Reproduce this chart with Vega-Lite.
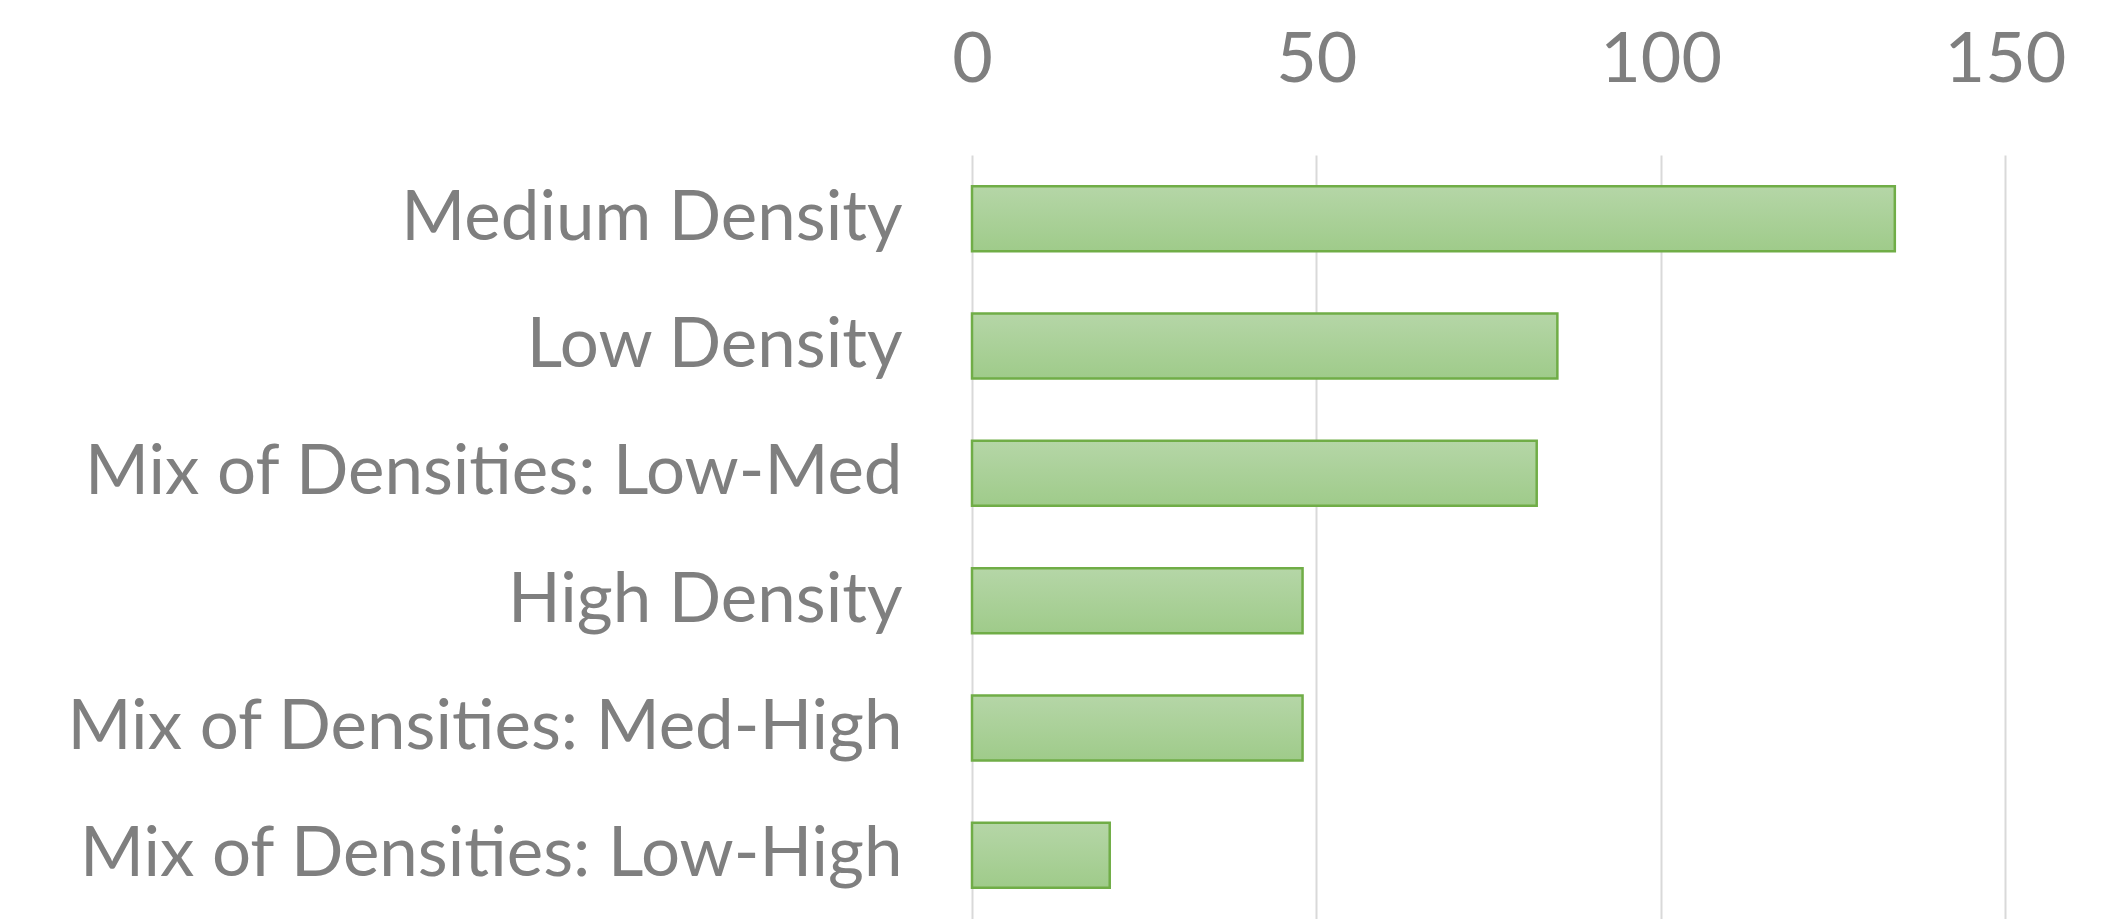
{
  "$schema": "https://vega.github.io/schema/vega-lite/v6.json",
  "autosize": "none",
  "width": 1033,
  "height": 764,
  "padding": {"left": 972, "top": 155, "right": 112, "bottom": 0},
  "background": "white",
  "config": {"view": {"stroke": null}},
  "data": {"values": [
    {"category": "Medium Density", "count": 134},
    {"category": "Low Density", "count": 85},
    {"category": "Mix of Densities: Low-Med", "count": 82},
    {"category": "High Density", "count": 48},
    {"category": "Mix of Densities: Med-High", "count": 48},
    {"category": "Mix of Densities: Low-High", "count": 20}
  ]},
  "mark": {
    "type": "bar",
    "stroke": "#70ad47",
    "strokeWidth": 2.5,
    "color": {
      "gradient": "linear",
      "x1": 0, "y1": 0, "x2": 0, "y2": 1,
      "stops": [
        {"offset": 0, "color": "#b5d6a7"},
        {"offset": 1, "color": "#9fcb8a"}
      ]
    }
  },
  "encoding": {
    "y": {
      "field": "category",
      "type": "nominal",
      "sort": null,
      "scale": {"paddingInner": 0.49, "paddingOuter": 0.245},
      "axis": {
        "title": null,
        "domain": false,
        "ticks": false,
        "labelPadding": 70,
        "labelFont": "Lato",
        "labelFontSize": 69,
        "labelColor": "#7f7f7f",
        "labelLimit": 0,
        "labelBaseline": "middle"
      }
    },
    "x": {
      "field": "count",
      "type": "quantitative",
      "scale": {"domain": [0, 150], "nice": false},
      "axis": {
        "orient": "top",
        "title": null,
        "values": [0, 50, 100, 150],
        "domain": false,
        "ticks": false,
        "grid": true,
        "gridColor": "#d9d9d9",
        "gridWidth": 2,
        "labelPadding": 59,
        "labelFont": "Lato",
        "labelFontSize": 70,
        "labelColor": "#7f7f7f",
        "labelFlush": false
      }
    }
  }
}
